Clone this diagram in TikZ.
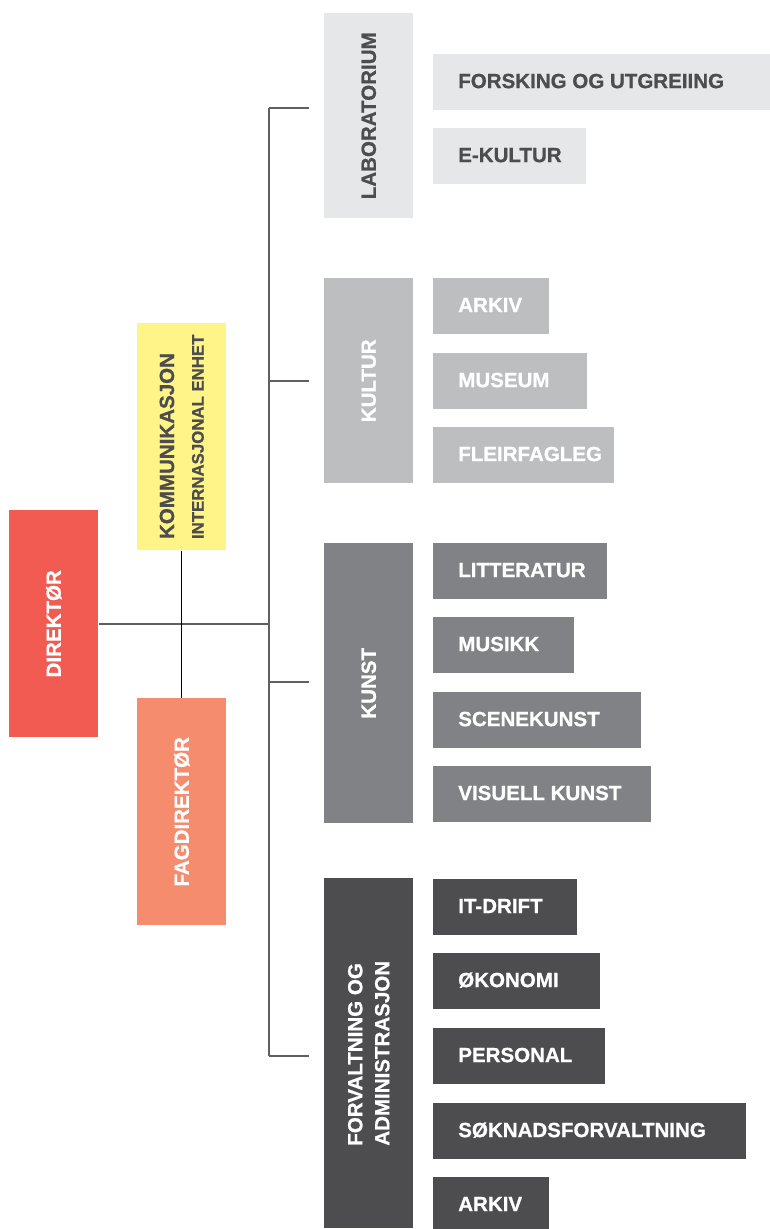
\documentclass[tikz,border=0pt]{standalone}
\usepackage{fontspec}
\setmainfont{Liberation Sans}[BoldFeatures={FakeBold=0.8}]
\usetikzlibrary{positioning,calc}
\newcommand{\pix}{0.75pt}
\newcommand{\headbox}[8]{%
  % #1 name, #2 x, #3 y, #4 w, #5 h, #6 fill, #7 text colour, #8 label
  \node[boxfill, fill=#6, minimum width=#4*\pix, minimum height=#5*\pix] (#1) at (#2,#3) {};
  \node[headtxt, text=#7] (#1-t) at (#1.center) {#8};%
}
\newcommand{\unitbox}[7]{%
  % #1 name, #2 x, #3 y, #4 w, #5 fill, #6 text colour, #7 label
  \node[boxfill, fill=#5, minimum width=#4*\pix, minimum height=56*\pix] (#1) at (#2,#3) {};
  \node[unittxt, text=#6] (#1-t) at ($(#1.west)+(25,-1.5)$) {#7};%
}

\begin{document}
\begin{tikzpicture}[x=0.75pt, y=-0.75pt,
  boxfill/.style={anchor=north west, inner sep=0pt, draw=none},
  headtxt/.style={rotate=90, inner sep=0pt, align=left, font=\fontsize{15.4}{20.25}\selectfont\bfseries},
  unittxt/.style={anchor=west, inner sep=0pt, text height=11pt, text depth=0pt, font=\fontsize{15.4}{18}\selectfont\bfseries},
  link/.style={draw=linecol, line width=1.5pt},
  stem/.style={draw=black, line width=0.8pt}]

\definecolor{dircol}{RGB}{241,91,82}
\definecolor{kommcol}{RGB}{255,244,135}
\definecolor{fagcol}{RGB}{245,140,110}
\definecolor{labcol}{RGB}{230,231,232}
\definecolor{kultcol}{RGB}{188,190,192}
\definecolor{kunstcol}{RGB}{128,130,133}
\definecolor{forvcol}{RGB}{77,77,79}
\definecolor{darktxt}{RGB}{77,77,79}
\definecolor{linecol}{RGB}{95,96,98}

\useasboundingbox (0,0) rectangle (770,1229);

% ===== LEADERSHIP =====
\headbox{dir}{9}{510}{89}{227}{dircol}{white}{DIREKTØR}
\headbox{komm}{137}{323}{89}{227}{kommcol}{darktxt}{KOMMUNIKASJON\\[2pt]\fontsize{12.6}{15}\selectfont INTERNASJONAL ENHET}
\headbox{fag}{137}{698}{89}{227}{fagcol}{white}{FAGDIREKTØR}

% ===== DEPARTMENTS =====
\headbox{lab}{324}{13}{89}{205}{labcol}{darktxt}{LABORATORIUM}
\headbox{kult}{324}{278}{89}{205}{kultcol}{white}{KULTUR}
\headbox{kunst}{324}{543}{89}{280}{kunstcol}{white}{KUNST}
\headbox{forv}{324}{878}{89}{350}{forvcol}{white}{FORVALTNING OG\\ADMINISTRASJON}

% ===== UNITS =====
\unitbox{forsk}{433}{54}{337}{labcol}{darktxt}{FORSKING OG UTGREIING}
\unitbox{ekult}{433}{128}{153}{labcol}{darktxt}{E-KULTUR}

\unitbox{arkiv}{433}{278}{116}{kultcol}{white}{ARKIV}
\unitbox{museum}{433}{353}{154}{kultcol}{white}{MUSEUM}
\unitbox{fleir}{433}{427}{181}{kultcol}{white}{FLEIRFAGLEG}

\unitbox{litt}{433}{543}{174}{kunstcol}{white}{LITTERATUR}
\unitbox{musikk}{433}{617}{141}{kunstcol}{white}{MUSIKK}
\unitbox{scene}{433}{692}{208}{kunstcol}{white}{SCENEKUNST}
\unitbox{visuell}{433}{766}{218}{kunstcol}{white}{VISUELL KUNST}

\unitbox{itdrift}{433}{879}{144}{forvcol}{white}{IT-DRIFT}
\unitbox{okon}{433}{953}{167}{forvcol}{white}{ØKONOMI}
\unitbox{pers}{433}{1028}{172}{forvcol}{white}{PERSONAL}
\unitbox{soknad}{433}{1103}{313}{forvcol}{white}{SØKNADSFORVALTNING}
\unitbox{arkivb}{433}{1177}{116}{forvcol}{white}{ARKIV}

% ===== CONNECTIONS =====
\coordinate (spine-top) at (269,108);
\coordinate (spine-bot) at (269,1056);
\coordinate (lab-in) at (309,108);
\coordinate (kult-in) at (309,381);
\coordinate (kunst-in) at (309,682);
\coordinate (forv-in) at (309,1056);

\draw[link] (spine-top) -- (spine-bot);
\draw[link] (dir.east) -- (dir.east -| spine-top);
\foreach \b in {lab,kult,kunst,forv}
  \draw[link] (\b-in -| spine-top) -- (\b-in);
\draw[stem] (komm.south) -- (fag.north);

\end{tikzpicture}
\end{document}
